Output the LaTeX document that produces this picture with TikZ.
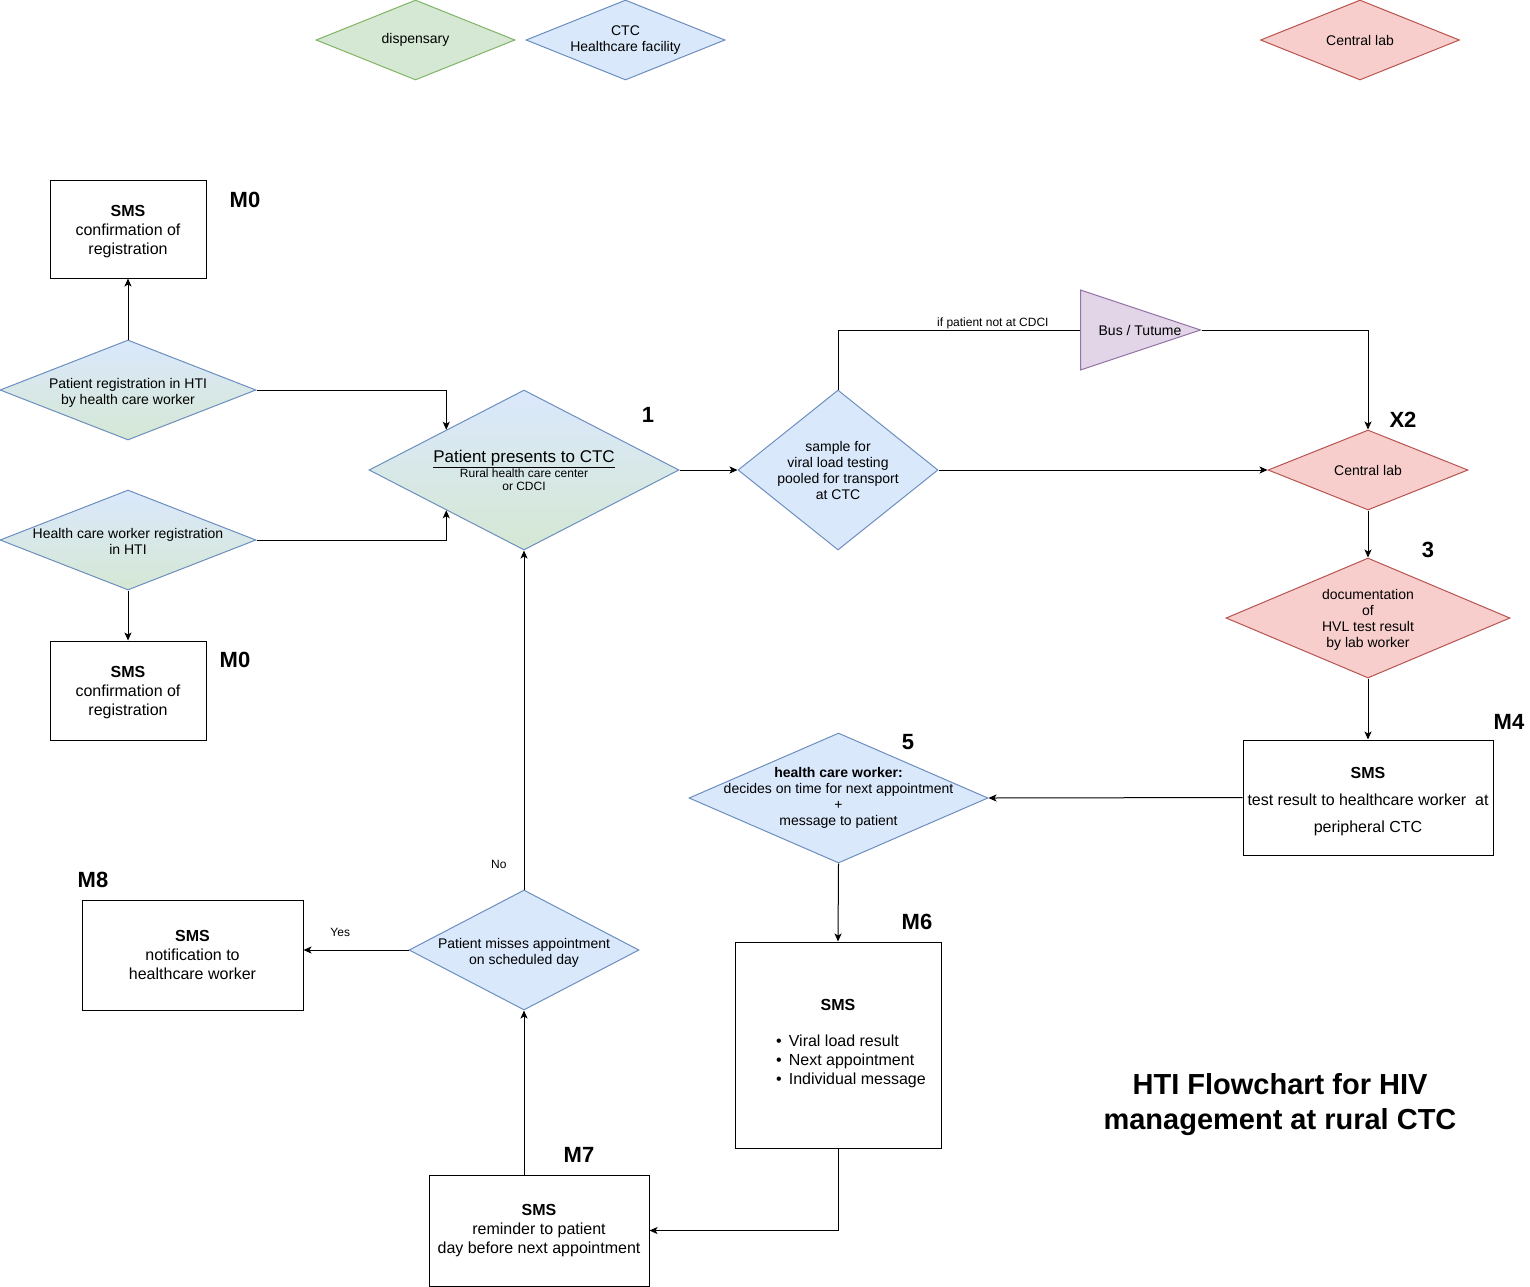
\documentclass[tikz,border=0pt]{standalone}
\usepackage{fontspec}
\setmainfont{Liberation Sans}
\usetikzlibrary{shapes.geometric,arrows.meta}

\definecolor{ctcfill}{HTML}{DAE8FC}
\definecolor{ctcline}{HTML}{6C8EBF}
\definecolor{dispfill}{HTML}{D5E8D4}
\definecolor{displine}{HTML}{82B366}
\definecolor{labfill}{HTML}{F8CECC}
\definecolor{labline}{HTML}{B85450}
\definecolor{busfill}{HTML}{E1D5E7}
\definecolor{busline}{HTML}{9673A6}

\tikzset{
    flow-diamond/.style = {diamond, inner sep=0pt, line width=1pt},
    ctc-diamond/.style = {flow-diamond, draw=ctcline, fill=ctcfill},
    disp-diamond/.style = {flow-diamond, draw=displine, fill=dispfill},
    lab-diamond/.style = {flow-diamond, draw=labline, fill=labfill},
    mixed-diamond/.style = {flow-diamond, draw=ctcline, top color=ctcfill, bottom color=dispfill},
    diamond-text/.style = {align=center, font=\fontsize{14}{16}\selectfont},
    sms-box/.style = {draw, rectangle, fill=white, line width=1pt, align=center, font=\fontsize{16}{19}\selectfont},
    step-label/.style = {font=\fontsize{22}{26}\selectfont\bfseries},
    edge-label/.style = {font=\fontsize{12}{14}\selectfont, inner sep=1pt},
    flow-line/.style = {draw, line width=1pt},
    flow-arrow/.style = {flow-line, -{Stealth[length=8pt, width=7pt, inset=2pt]}},
}

\begin{document}
\begin{tikzpicture}[x=1pt, y=-1pt]
\useasboundingbox (0,0) rectangle (1530,1286);

% legend
\node[disp-diamond, minimum width=199pt, minimum height=80pt,
      label={[diamond-text]center:dispensary}] (key-disp) at (415.5,40) {};
\node[ctc-diamond, minimum width=199pt, minimum height=80pt,
      label={[diamond-text]center:CTC\\Healthcare facility}] (key-ctc) at (625.5,40) {};
\node[lab-diamond, minimum width=199pt, minimum height=80pt,
      label={[diamond-text]center:Central lab}] (key-lab) at (1360,40) {};

% registration
\node[sms-box, minimum width=156pt, minimum height=98pt] (sms-reg-top) at (128,229)
    {\rule{0pt}{16pt}\textbf{SMS}\\confirmation of\\registration};
\node[mixed-diamond, minimum width=256pt, minimum height=100pt,
      label={[diamond-text, yshift=-3pt]center:Patient registration in HTI\\by health care worker}] (preg) at (128,390) {};
\node[mixed-diamond, minimum width=256pt, minimum height=100pt,
      label={[diamond-text, yshift=-1pt]center:Health care worker registration\\in HTI}] (hreg) at (128,540) {};
\node[sms-box, minimum width=156pt, minimum height=99pt] (sms-reg-bottom) at (128,690.5)
    {\rule{0pt}{16pt}\textbf{SMS}\\confirmation of\\registration};

% main flow
\node[mixed-diamond, minimum width=310pt, minimum height=160pt,
      label={[align=center, font=\fontsize{12}{13}\selectfont]center:{\fontsize{17}{16}\selectfont\underline{Patient presents to CTC}}\\Rural health care center\\or CDCI}] (present) at (524,470) {};
\node[ctc-diamond, minimum width=200pt, minimum height=160pt,
      label={[diamond-text]center:sample for\\viral load testing\\pooled for transport\\at CTC}] (sample) at (838,470) {};
\node[isosceles triangle, isosceles triangle stretches, draw=busline, fill=busfill, line width=1pt,
      inner sep=0pt, minimum width=80pt, minimum height=120pt, anchor=west,
      label={[diamond-text, anchor=center, xshift=60pt]west:Bus / Tutume}] (bus) at (1080,330) {};
\node[lab-diamond, minimum width=200pt, minimum height=80pt,
      label={[diamond-text]center:Central lab}] (lab) at (1368,470) {};
\node[lab-diamond, minimum width=284pt, minimum height=120pt,
      label={[diamond-text, yshift=-2pt]center:documentation\\of\\HVL test result\\by lab worker}] (doc) at (1368,618) {};
\node[sms-box, minimum width=250pt, minimum height=115pt, font=\fontsize{16}{27}\selectfont] (sms-result) at (1368,797.5)
    {\rule{0pt}{20pt}\textbf{SMS}\\test result to healthcare worker~ at\\peripheral CTC};
\node[ctc-diamond, minimum width=299pt, minimum height=130pt,
      label={[diamond-text]center:\textbf{health care worker:}\\decides on time for next appointment\\+\\message to patient}] (decide) at (838.5,798) {};
\node[sms-box, minimum width=206pt, minimum height=206pt] (sms-patient) at (838,1045)
    {\textbf{SMS}\\[22pt]\hspace*{26pt}\begin{tabular}{@{}l@{\hspace{7pt}}l@{}}
      \textbullet & Viral load result\\ \textbullet & Next appointment\\ \textbullet & Individual message
    \end{tabular}};
\node[sms-box, minimum width=220pt, minimum height=111pt] (sms-remind) at (539,1230.5)
    {\textbf{SMS}\\reminder to patient\\day before next appointment};
\node[ctc-diamond, minimum width=230pt, minimum height=120pt,
      label={[diamond-text, yshift=-3pt]center:Patient misses appointment\\on scheduled day}] (missed) at (524,950) {};
\node[sms-box, minimum width=221pt, minimum height=110pt] (sms-notify) at (192.5,955)
    {\textbf{SMS}\\notification to\\healthcare worker};

% step numbers
\node[step-label] (lbl-m0a) at (245,200) {M0};
\node[step-label] (lbl-m0b) at (235,660) {M0};
\node[step-label] (lbl-1) at (648,415) {1};
\node[step-label] (lbl-x2) at (1403,420) {X2};
\node[step-label] (lbl-3) at (1428,550) {3};
\node[step-label] (lbl-m4) at (1509,722) {M4};
\node[step-label] (lbl-5) at (908,742) {5};
\node[step-label] (lbl-m6) at (917,922) {M6};
\node[step-label] (lbl-m7) at (579,1155) {M7};
\node[step-label] (lbl-m8) at (93,880) {M8};

\node[align=center, font=\fontsize{29}{35}\selectfont\bfseries] (title) at (1280,1105)
    {HTI Flowchart for HIV\\management at rural CTC};

% connectors
\draw[flow-arrow] (preg.north) -- (sms-reg-top.south);
\draw[flow-arrow] (hreg.south) -- (sms-reg-bottom.north);
\draw[flow-arrow] (preg.east) -| (present.north west);
\draw[flow-arrow] (hreg.east) -| (present.south west);
\draw[flow-arrow] (present.east) -- (sample.west);
\draw[flow-line] (sample.north) |- (bus.west)
    node[edge-label, pos=0.82, above] {if patient not at CDCI};
\draw[flow-arrow] (bus.east) -| (lab.north);
\draw[flow-arrow] (sample.east) -- (lab.west);
\draw[flow-arrow] (lab.south) -- (doc.north);
\draw[flow-arrow] (doc.south) -- (sms-result.north);
\draw[flow-arrow] (sms-result.west) -- (decide.east);
\draw[flow-arrow] (decide.south) -- (sms-patient.north);
\draw[flow-arrow] (sms-patient.south) |- (sms-remind.east);
\draw[flow-arrow] (sms-remind.north -| missed.south) -- (missed.south);
\draw[flow-arrow] (missed.north) -- (present.south)
    node[edge-label, pos=0.074, left=16pt] {No};
\draw[flow-arrow] (missed.west) -- (missed.west -| sms-notify.east)
    node[edge-label, pos=0.65, above=12pt] {Yes};
\end{tikzpicture}
\end{document}
